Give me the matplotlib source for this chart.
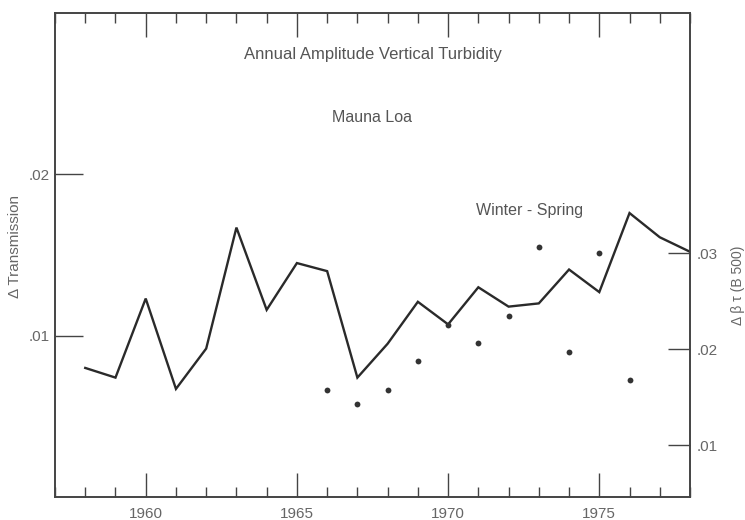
import matplotlib
matplotlib.use("Agg")
import matplotlib.pyplot as plt
from matplotlib.ticker import FixedLocator, MultipleLocator

plt.rcParams['font.family'] = ['Liberation Sans', 'DejaVu Sans']

# Annual amplitude of vertical turbidity, Mauna Loa (left axis: delta transmission)
years = [1958, 1959, 1960, 1961, 1962, 1963, 1964, 1965, 1966, 1967, 1968,
         1969, 1970, 1971, 1972, 1973, 1974, 1975, 1976, 1977, 1978]
transmission = [0.0080, 0.0074, 0.0123, 0.0067, 0.0092, 0.0167, 0.0116, 0.0145,
                0.0140, 0.0074, 0.0095, 0.0121, 0.0107, 0.0130, 0.0118, 0.0120,
                0.0141, 0.0127, 0.0176, 0.0161, 0.0152]

# Winter - Spring points (right axis: delta beta tau at 500 nm)
ws_years = [1966, 1967, 1968, 1969, 1970, 1971, 1972, 1973, 1974, 1975, 1976]
ws_beta = [0.0157, 0.0143, 0.0157, 0.0188, 0.0225, 0.0206, 0.0235, 0.0306,
           0.0197, 0.0300, 0.0168]

left_ticks = [0.01, 0.02]
left_labels = ['.01', '.02']
right_ticks = [0.01, 0.02, 0.03]
right_labels = ['.01', '.02', '.03']
year_ticks = [1960, 1965, 1970, 1975]

ink = '#2a2a2a'
text_c = '#666666'

fig = plt.figure(figsize=(7.45, 5.2), dpi=100)
ax = fig.add_axes([55 / 745, 1 - 497 / 520, 635 / 745, 484 / 520])
ax2 = ax.twinx()

ax.plot(years, transmission, color=ink, lw=1.7, solid_joinstyle='miter', zorder=3)
ax2.plot(ws_years, ws_beta, 'o', color='#333333', ms=4.2, mec='none', zorder=4)

ax.set_xlim(1957, 1978)
ax.set_ylim(0, 0.03)
ax2.set_ylim(0.0046, 0.0550)

for a in (ax, ax2):
    for s in a.spines.values():
        s.set_color('#444444')
        s.set_linewidth(1.2)

# x ticks on top and bottom, pointing inward
ax.xaxis.set_major_locator(FixedLocator(year_ticks))
ax.xaxis.set_minor_locator(MultipleLocator(1))
ax.set_xticklabels([str(y) for y in year_ticks])
ax.tick_params(axis='x', which='major', direction='in', top=True, bottom=True,
               length=17, width=1.0, color='#444444', labelsize=11,
               labelcolor=text_c, pad=7)
ax.tick_params(axis='x', which='minor', direction='in', top=True, bottom=True,
               length=7, width=1.0, color='#444444')

# left axis
ax.set_yticks(left_ticks)
ax.set_yticklabels(left_labels)
ax.tick_params(axis='y', which='both', direction='in', left=True, right=False,
               length=20, width=1.0, color='#444444', labelsize=11,
               labelcolor=text_c, pad=4)
ax.yaxis.set_minor_locator(FixedLocator([]))

# right axis
ax2.set_yticks(right_ticks)
ax2.set_yticklabels(right_labels)
ax2.tick_params(axis='y', which='both', direction='in', right=True, left=False,
                length=16, width=1.0, color='#444444', labelsize=11,
                labelcolor=text_c, pad=5)

fig.text(15 / 745, 1 - 246 / 520, '\u0394 Transmission', rotation=90,
         ha='center', va='center', fontsize=11, color=text_c)
fig.text(738 / 745, 1 - 285 / 520, '\u0394 \u03b2 \u03c4 (B 500)', rotation=90,
         ha='center', va='center', fontsize=10, color=text_c)

fig.text(373 / 745, 1 - 55 / 520, 'Annual Amplitude Vertical Turbidity',
         ha='center', va='center', fontsize=12, color='#555555')
fig.text(372 / 745, 1 - 117 / 520, 'Mauna Loa',
         ha='center', va='center', fontsize=11.5, color='#555555')
fig.text(530 / 745, 1 - 211 / 520, 'Winter - Spring',
         ha='center', va='center', fontsize=11.5, color='#555555')

fig.savefig('out.png', dpi=100, facecolor='white')
